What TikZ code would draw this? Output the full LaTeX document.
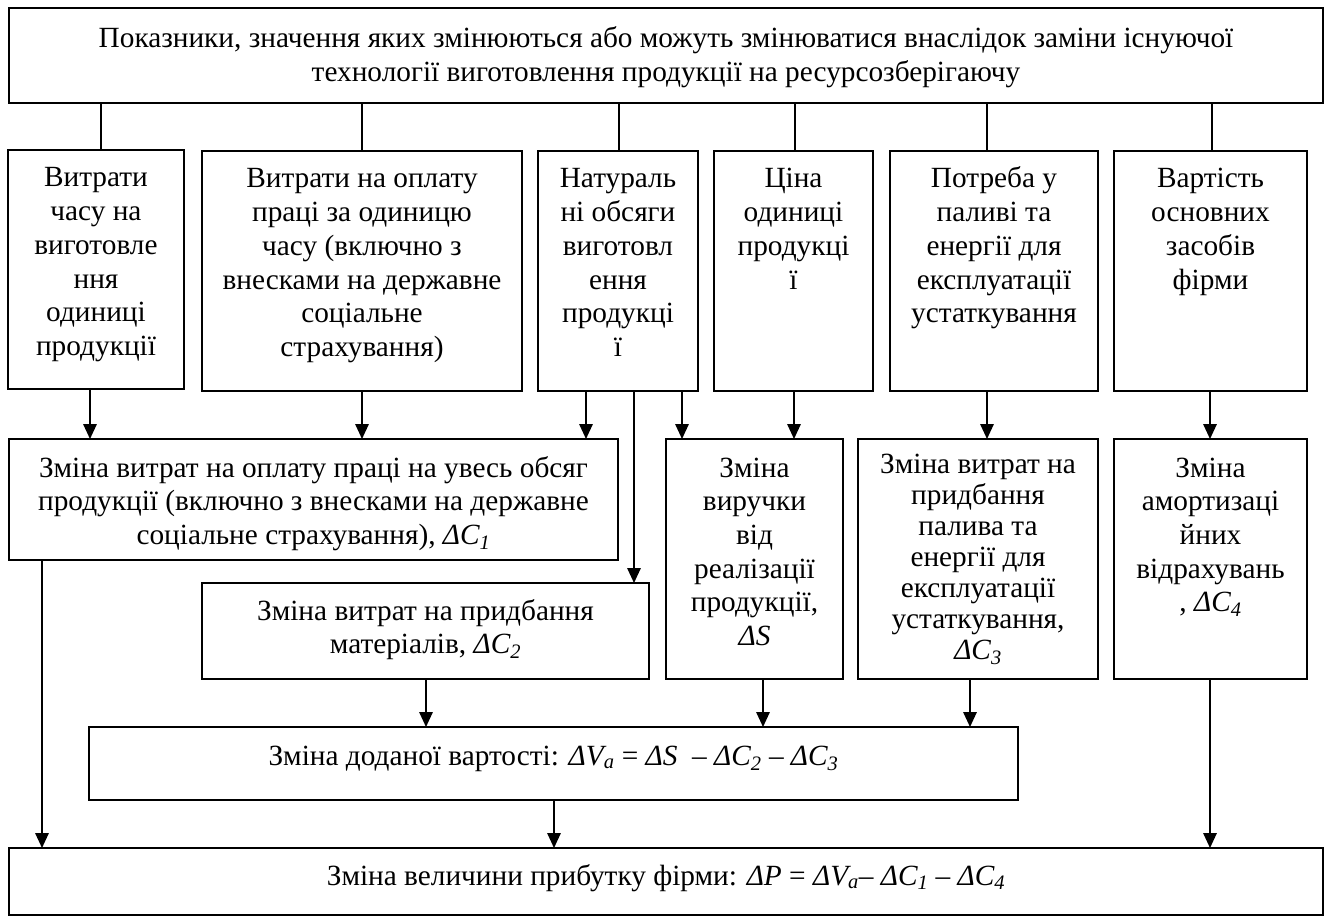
\documentclass[tikz,border=0pt]{standalone}
\usepackage{fontspec}
\setmainfont{Liberation Serif}
\usetikzlibrary{arrows.meta}

% a fixed-size cell: width, height, first-baseline offset, text
\newcommand\cell[4]{\parbox[c][#2][t]{#1}{\centering\rule{0pt}{#3}#4\par}}
\newcommand\dC[1]{\textit{ΔC\textsubscript{#1}}}

\begin{document}
\begin{tikzpicture}[x=1pt,y=-1pt,
  box/.style={draw, line width=1.6pt, inner sep=0pt, outer sep=0pt, anchor=north west},
  link/.style={line width=1.6pt},
  arr/.style={link, -{Triangle[length=15pt,width=13.5pt]}},
  every node/.append style={font=\fontsize{29.3pt}{33.7pt}\selectfont}]
\useasboundingbox (0,0) rectangle (1327,917);

% top box
\node[box] (t) at (9,8) {\cell{1314pt}{95pt}{40pt}{Показники, значення яких змінюються або можуть змінюватися внаслідок заміни існуючої\\технології виготовлення продукції на ресурсозберігаючу}};

% first row
\node[box] (b1) at (8,150) {\cell{176pt}{239pt}{37pt}{Витрати\\часу на\\виготовле\\ння\\одиниці\\продукції}};
\node[box] (b2) at (202,151) {\cell{320pt}{240pt}{37pt}{Витрати на оплату\\праці за одиницю\\часу (включно з\\внесками на державне\\соціальне\\страхування)}};
\node[box] (b3) at (538,151) {\cell{160pt}{240pt}{37pt}{Натураль\\ні обсяги\\виготовл\\ення\\продукці\\ї}};
\node[box] (b4) at (714,151) {\cell{159pt}{240pt}{37pt}{Ціна\\одиниці\\продукці\\ї}};
\node[box] (b5) at (890,151) {\cell{208pt}{240pt}{37pt}{Потреба у\\паливі та\\енергії для\\експлуатації\\устаткування}};
\node[box] (b6) at (1114,151) {\cell{193pt}{240pt}{37pt}{Вартість\\основних\\засобів\\фірми}};

% second row
\node[box] (c1) at (9,439) {\cell{609pt}{121pt}{38pt}{Зміна витрат на оплату праці на увесь обсяг\\продукції (включно з внесками на державне\\соціальне страхування), \dC{1}}};
\node[box] (c2) at (202,583) {\cell{447pt}{96pt}{37pt}{Зміна витрат на придбання\\матеріалів, \dC{2}}};
\node[box] (s) at (666,439) {\cell{177pt}{240pt}{38pt}{Зміна\\виручки\\від\\реалізації\\продукції,\\\textit{ΔS}}};
\node[box] (c3) at (858,439) {\cell{240pt}{240pt}{34pt}{\fontsize{29.3pt}{31pt}\selectfont Зміна витрат на\\придбання\\палива та\\енергії для\\експлуатації\\устаткування,\\\dC{3}}};
\node[box] (c4) at (1114,439) {\cell{193pt}{240pt}{38pt}{Зміна\\амортизаці\\йних\\відрахувань\\, \dC{4}}};

% totals
\node[box] (va) at (89,727) {\cell{929pt}{73pt}{38pt}{Зміна доданої вартості: \textit{ΔV\textsubscript{a}} = \textit{ΔS}~ – \dC{2} – \dC{3}}};
\node[box] (p) at (9,848) {\cell{1314pt}{67pt}{37pt}{Зміна величини прибутку фірми: \textit{ΔP} = \textit{ΔV\textsubscript{a}}– \dC{1} – \dC{4}}};

% columns of the connectors
\coordinate (ka) at (101,0);
\coordinate (kb) at (362,0);
\coordinate (kc) at (619,0);
\coordinate (kd) at (795,0);
\coordinate (ke) at (987,0);
\coordinate (kf) at (1212,0);
\coordinate (a1) at (90,0);
\coordinate (a2) at (362,0);
\coordinate (a3) at (586,0);
\coordinate (a4) at (634,0);
\coordinate (a5) at (682,0);
\coordinate (a6) at (794,0);
\coordinate (a7) at (987,0);
\coordinate (a8) at (1210,0);
\coordinate (v1) at (426,0);
\coordinate (v2) at (763,0);
\coordinate (v3) at (970,0);
\coordinate (p1) at (42,0);
\coordinate (p2) at (554,0);
\coordinate (p3) at (1210,0);

% top box to the first row
\draw[link] (ka |- t.south) -- (ka |- b1.north);
\draw[link] (kb |- t.south) -- (kb |- b2.north);
\draw[link] (kc |- t.south) -- (kc |- b3.north);
\draw[link] (kd |- t.south) -- (kd |- b4.north);
\draw[link] (ke |- t.south) -- (ke |- b5.north);
\draw[link] (kf |- t.south) -- (kf |- b6.north);

% first row to second row
\draw[arr] (a1 |- b1.south) -- (a1 |- c1.north);
\draw[arr] (a2 |- b2.south) -- (a2 |- c1.north);
\draw[arr] (a3 |- b3.south) -- (a3 |- c1.north);
\draw[arr] (a4 |- b3.south) -- (a4 |- c2.north);
\draw[arr] (a5 |- b3.south) -- (a5 |- s.north);
\draw[arr] (a6 |- b4.south) -- (a6 |- s.north);
\draw[arr] (a7 |- b5.south) -- (a7 |- c3.north);
\draw[arr] (a8 |- b6.south) -- (a8 |- c4.north);

% into the value-added box
\draw[arr] (v1 |- c2.south) -- (v1 |- va.north);
\draw[arr] (v2 |- s.south) -- (v2 |- va.north);
\draw[arr] (v3 |- c3.south) -- (v3 |- va.north);

% into the profit box
\draw[arr] (p1 |- c1.south) -- (p1 |- p.north);
\draw[arr] (p2 |- va.south) -- (p2 |- p.north);
\draw[arr] (p3 |- c4.south) -- (p3 |- p.north);
\end{tikzpicture}
\end{document}
